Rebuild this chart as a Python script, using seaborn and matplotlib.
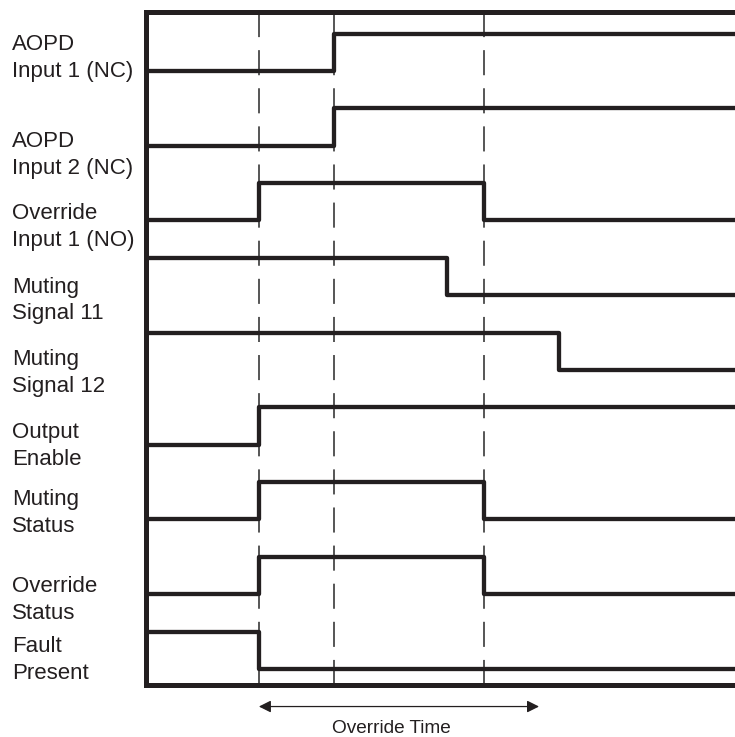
import pandas as pd
import seaborn as sns
import matplotlib.pyplot as plt
import matplotlib.transforms as mtransforms

# signal names (top to bottom)
signals = [
    "AOPD\nInput 1 (NC)",
    "AOPD\nInput 2 (NC)",
    "Override\nInput 1 (NO)",
    "Muting\nSignal 11",
    "Muting\nSignal 12",
    "Output\nEnable",
    "Muting\nStatus",
    "Override\nStatus",
    "Fault\nPresent",
]

# change times and levels for each signal (0 = low, 1 = high)
change_times = [
    [0, 31.9],
    [0, 31.9],
    [0, 19.2, 57.35],
    [0, 51.0],
    [0, 70.1],
    [0, 19.2],
    [0, 19.2, 57.35],
    [0, 19.2, 57.35],
    [0, 19.2],
]
levels = [
    [0, 1],
    [0, 1],
    [0, 1, 0],
    [1, 0],
    [1, 0],
    [0, 1],
    [0, 1, 0],
    [0, 1, 0],
    [1, 0],
]
t_end = 100
markers = [19.1, 31.9, 57.3]          # dashed reference times
override_span = [19.1, 66.7]          # "Override Time" arrow
override_label = "Override Time"

INK = "#231f20"


def build_frame():
    rows = []
    n = len(signals)
    for i, name in enumerate(signals):
        ts = change_times[i] + [t_end]
        lv = levels[i] + [levels[i][-1]]
        base = n - 1 - i
        for t, v in zip(ts, lv):
            rows.append({"signal": name, "time": t, "y": base + 0.5 * v})
    return pd.DataFrame(rows)


def main():
    sns.set_style("white")
    plt.rcParams["font.family"] = ["Liberation Sans", "DejaVu Sans"]

    df = build_frame()
    fig = plt.figure(figsize=(7.35, 7.37), dpi=100)
    ax = fig.add_axes([0.1993, 0.07056, 0.8007, 0.91316])

    # dashed event markers
    for m in markers:
        ax.axvline(m, color="#555555", linewidth=1.4, dashes=(12.9, 6.7), zorder=1)

    sns.lineplot(data=df, x="time", y="y", units="signal", estimator=None,
                 drawstyle="steps-post", color=INK, linewidth=3.1, sort=False,
                 ax=ax, zorder=3)

    ax.set_xlim(0, t_end)
    ax.set_ylim(-0.214, 8.789)
    ax.set_xticks([])
    ax.set_yticks([])
    ax.set_xlabel("")
    ax.set_ylabel("")

    for side in ["left", "top", "bottom"]:
        ax.spines[side].set_visible(True)
        ax.spines[side].set_color(INK)
        ax.spines[side].set_linewidth(3.6)
        ax.spines[side].set_capstyle("projecting")
    ax.spines["right"].set_visible(False)

    # signal labels on the left (shift down, in row units)
    label_shift = [-0.177, 0.12, 0.09, 0.07, 0.04, 0.02, -0.09, 0.077, -0.117]
    trans = mtransforms.blended_transform_factory(fig.transFigure, ax.transData)
    n = len(signals)
    for i, name in enumerate(signals):
        ax.text(12 / 735, n - 1 - i - label_shift[i], name, transform=trans,
                ha="left", va="center", fontsize=16, color=INK, linespacing=1.35)

    # override time arrow
    atrans = mtransforms.blended_transform_factory(ax.transData, ax.transAxes)
    ax.annotate("", xy=(override_span[0], -0.032), xytext=(override_span[1], -0.032),
                xycoords=atrans, textcoords=atrans,
                arrowprops=dict(arrowstyle="<|-|>", color=INK, lw=0.9,
                                mutation_scale=18, shrinkA=0, shrinkB=0),
                annotation_clip=False)
    ax.text(41.6, -0.065, override_label, transform=atrans, ha="center",
            va="center", fontsize=13.7, color=INK)

    fig.savefig("out.png", dpi=100)


if __name__ == "__main__":
    main()
